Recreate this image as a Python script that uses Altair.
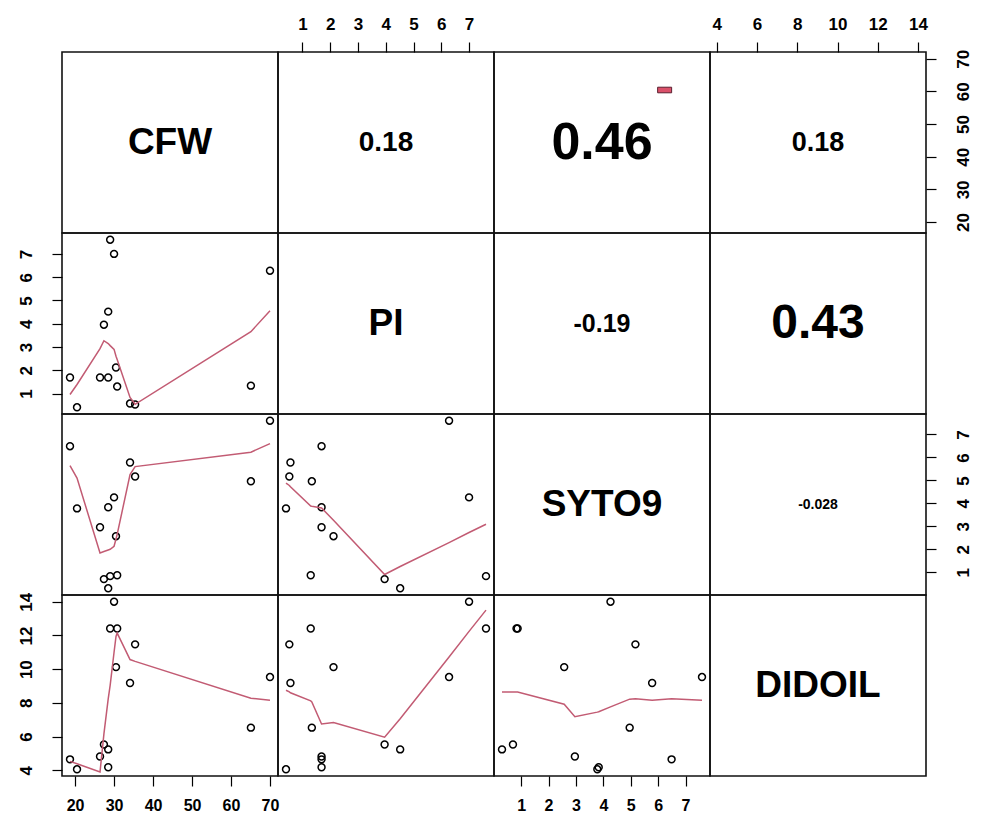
import altair as alt
import pandas as pd

VARS = ["CFW", "PI", "SYTO9", "DIDOIL"]

CFW = [18.7, 20.5, 26.4, 28.5, 27.4, 28.5, 29.0, 30.0, 30.5, 30.8, 34.1, 35.4, 65.1, 70.0]
PI = [1.69, 0.41, 1.69, 1.69, 3.96, 4.52, 7.61, 7.0, 2.12, 1.30, 0.57, 0.53, 1.34, 6.28]
SYTO9 = [6.49, 3.78, 2.96, 3.83, 0.70, 0.30, 0.83, 4.26, 2.57, 0.87, 5.78, 5.17, 4.96, 7.6]
DIDOIL = [4.65, 4.06, 4.82, 4.18, 5.53, 5.24, 12.41, 14.0, 10.12, 12.41, 9.18, 11.47, 6.53, 9.53]

DATA = {"CFW": CFW, "PI": PI, "SYTO9": SYTO9, "DIDOIL": DIDOIL}

TICKS = {
    "CFW": [20, 30, 40, 50, 60, 70],
    "PI": [1, 2, 3, 4, 5, 6, 7],
    "SYTO9": [1, 2, 3, 4, 5, 6, 7],
    "DIDOIL": [4, 6, 8, 10, 12, 14],
}

# smoother curves
CFW_GRID = [18.7, 20.5, 26.4, 27.4, 28.5, 29.0, 30.0, 30.5, 30.8, 34.1, 35.4, 65.1, 70.0]
PI_ON_CFW = [0.96, 1.39, 2.93, 3.27, 3.15, 3.06, 2.9, 2.6, 2.46, 0.83, 0.54, 3.66, 4.56]
SYTO9_ON_CFW = [5.64, 5.1, 1.84, 1.9, 1.97, 2.0, 2.13, 2.45, 2.65, 5.25, 5.6, 6.23, 6.6]
DIDOIL_ON_CFW = [4.53, 4.39, 3.9, 6.16, 8.24, 9.04, 11.0, 11.94, 12.14, 10.57, 10.46, 8.27, 8.16]

PI_GRID = [0.41, 0.53, 0.57, 1.30, 1.34, 1.69, 2.12, 3.96, 4.52, 6.28, 7.0, 7.61]
SYTO9_ON_PI = [4.88, 4.78, 4.72, 3.88, 3.87, 3.8, 3.26, 0.9, 1.25, 2.29, 2.73, 3.09]
DIDOIL_ON_PI = [8.75, 8.65, 8.6, 8.12, 8.06, 6.75, 6.84, 5.96, 7.06, 10.72, 12.24, 13.5]

SYTO9_GRID = [0.30, 0.70, 0.83, 0.87, 2.57, 2.96, 3.78, 3.83, 4.26, 4.96, 5.17, 5.78, 6.49, 7.6]
DIDOIL_ON_SYTO9 = [8.65, 8.65, 8.65, 8.65, 7.92, 7.18, 7.45, 7.47, 7.76, 8.22, 8.25, 8.16, 8.25, 8.16]

SMOOTH = {
    ("PI", "CFW"): (CFW_GRID, PI_ON_CFW),
    ("SYTO9", "CFW"): (CFW_GRID, SYTO9_ON_CFW),
    ("DIDOIL", "CFW"): (CFW_GRID, DIDOIL_ON_CFW),
    ("SYTO9", "PI"): (PI_GRID, SYTO9_ON_PI),
    ("DIDOIL", "PI"): (PI_GRID, DIDOIL_ON_PI),
    ("DIDOIL", "SYTO9"): (SYTO9_GRID, DIDOIL_ON_SYTO9),
}

# correlation labels in the upper panels and their printed sizes
COR_TEXT = {("CFW", "PI"): "0.18", ("CFW", "SYTO9"): "0.46", ("CFW", "DIDOIL"): "0.18",
            ("PI", "SYTO9"): "-0.19", ("PI", "DIDOIL"): "0.43", ("SYTO9", "DIDOIL"): "-0.028"}
COR_SIZE = {("CFW", "PI"): 28, ("CFW", "SYTO9"): 52, ("CFW", "DIDOIL"): 27,
            ("PI", "SYTO9"): 25, ("PI", "DIDOIL"): 48, ("SYTO9", "DIDOIL"): 14}
# significance mark (fraction of panel: x from left, y from bottom)
STAR_PANEL = ("CFW", "SYTO9")
STAR_FRAC = [0.79, 0.79]

W, H = 216, 181
LINE_COLOR = "#C25B73"
FONT = "Liberation Sans"


def dom(v):
    vals = DATA[v]
    lo, hi = min(vals), max(vals)
    r = hi - lo
    return [lo - 0.04 * r, hi + 0.04 * r]


def x_axis(i, j):
    v = VARS[j]
    if i == 0 and j in (1, 3):
        return alt.Axis(orient="top", values=TICKS[v], labelPadding=9, title=None)
    if i == 3 and j in (0, 2):
        return alt.Axis(orient="bottom", values=TICKS[v], labelPadding=11, labelFontSize=16,
                        title=None)
    return None


def y_axis(i, j):
    v = VARS[i]
    if j == 0 and i in (1, 3):
        return alt.Axis(orient="left", values=TICKS[v], labelAngle=270, labelAlign="center",
                        labelBaseline="bottom", labelPadding=17, title=None)
    if j == 3 and i in (0, 2):
        return alt.Axis(orient="right", values=TICKS[v], labelAngle=270, labelAlign="center",
                        labelBaseline="top", labelPadding=19, title=None)
    return None


def panel(i, j):
    rv, cv = VARS[i], VARS[j]
    xd, yd = dom(cv), dom(rv)
    xe = alt.X("x:Q", scale=alt.Scale(domain=xd, nice=False, zero=False), axis=x_axis(i, j))
    ye = alt.Y("y:Q", scale=alt.Scale(domain=yd, nice=False, zero=False), axis=y_axis(i, j))
    mid = pd.DataFrame({"x": [(xd[0] + xd[1]) / 2], "y": [(yd[0] + yd[1]) / 2]})
    layers = []
    if i > j:
        pts = pd.DataFrame({"x": DATA[cv], "y": DATA[rv]})
        gx, gy = SMOOTH[(rv, cv)]
        sm = pd.DataFrame({"x": gx, "y": gy})
        layers.append(alt.Chart(pts).mark_point(shape="circle", filled=False, color="black",
                                                 size=48, strokeWidth=1.5, opacity=1)
                      .encode(x=xe, y=ye))
        layers.append(alt.Chart(sm).mark_line(color=LINE_COLOR, strokeWidth=1.5)
                      .encode(x=xe, y=ye))
    elif i == j:
        m = mid.assign(t=rv)
        layers.append(alt.Chart(m).mark_text(font=FONT, fontWeight="bold", fontSize=37,
                                             color="black")
                      .encode(x=xe, y=ye, text="t:N"))
    else:
        key = (rv, cv)
        m = mid.assign(t=COR_TEXT[key])
        layers.append(alt.Chart(m).mark_text(font=FONT, fontWeight="bold",
                                             fontSize=COR_SIZE[key], color="black")
                      .encode(x=xe, y=ye, text="t:N"))
        if key == STAR_PANEL:
            s = pd.DataFrame({"x": [xd[0] + STAR_FRAC[0] * (xd[1] - xd[0])],
                              "y": [yd[0] + STAR_FRAC[1] * (yd[1] - yd[0])]})
            layers.append(alt.Chart(s).mark_point(
                shape="M-1,-0.4L1,-0.4L1,0.4L-1,0.4Z", size=196, filled=True,
                fill="#DA5069", stroke="#5A2030", strokeWidth=1, opacity=1)
                .encode(x=xe, y=ye))
    return alt.layer(*layers).properties(width=W, height=H)


panels = [panel(i, j) for i in range(4) for j in range(4)]

chart = alt.concat(*panels, columns=4, spacing=0, bounds="flush").properties(
    padding={"left": 16, "top": 14, "right": 0, "bottom": 0},
    background="white",
).configure_view(
    stroke="#111111", strokeWidth=1.6
).configure_axis(
    domain=False, grid=False, tickSize=10, tickColor="black", tickWidth=1.2,
    labelFont=FONT, labelFontWeight="bold", labelFontSize=17, labelColor="black",
)

chart.save("out.html", embed_options={"renderer": "svg", "actions": False})
